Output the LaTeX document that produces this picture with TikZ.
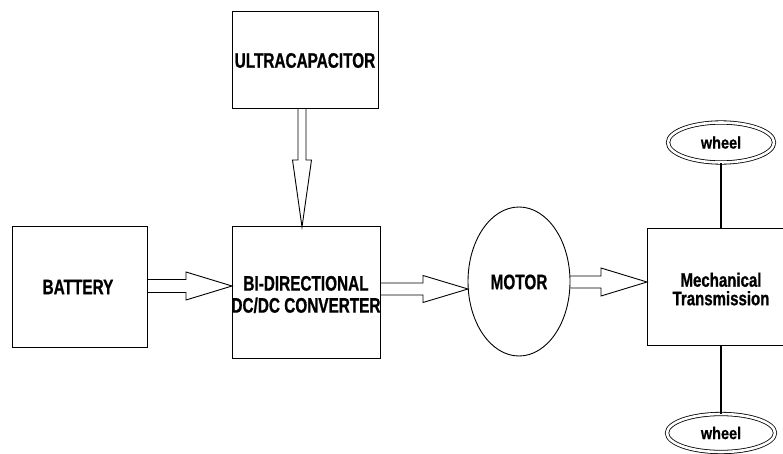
\documentclass[tikz,border=0pt]{standalone}
\usepackage{fontspec}
\setmainfont{Liberation Sans}
\newfontfamily\labfont[FakeStretch=0.73, BoldFeatures={FakeBold=0.8}]{Liberation Sans}
\newfontfamily\mecfont[FakeStretch=0.77, BoldFeatures={FakeBold=0.8}]{Liberation Sans}
\newfontfamily\whfont[FakeStretch=0.85, BoldFeatures={FakeBold=0.6}]{Liberation Sans}
\usetikzlibrary{calc,shapes.geometric}
\tikzset{
  blk/.style={draw, line width=0.9pt, rectangle, inner sep=0pt},
  lbl/.style={font=\labfont\bfseries\fontsize{21}{22}\selectfont, align=center, inner sep=0pt},
  lblb/.style={font=\mecfont\bfseries\fontsize{19.5}{18.5}\selectfont, align=center, inner sep=0pt},
  whl/.style={draw, ellipse, line width=0.8pt, double, double distance=2.6pt, inner sep=0pt,
     font=\whfont\bfseries\fontsize{17}{17}\selectfont},
  harr/.style={draw, line width=0.9pt, line join=miter},
  link/.style={draw, line width=1.1pt}
}
% horizontal hollow arrow: start, tip, shaft half, head half, head length
\newcommand{\hollowH}[5]{%
  \draw[harr] let \p1=(#1), \p2=(#2) in
    (\x1,\y2+#3) -- (\x2-#5,\y2+#3) -- (\x2-#5,\y2+#4) -- (\x2,\y2)
    -- (\x2-#5,\y2-#4) -- (\x2-#5,\y2-#3) -- (\x1,\y2-#3);}
% vertical (downward) hollow arrow
\newcommand{\hollowV}[5]{%
  \draw[harr] let \p1=(#1), \p2=(#2) in
    (\x2-#3,\y1) -- (\x2-#3,\y2+#5) -- (\x2-#4,\y2+#5) -- (\x2,\y2)
    -- (\x2+#4,\y2+#5) -- (\x2+#3,\y2+#5) -- (\x2+#3,\y1);}
\begin{document}
\begin{tikzpicture}[x=1pt,y=-1pt]
\useasboundingbox (0,0) rectangle (783,454);
\clip (0,0) rectangle (783,454);
\fill[white] (0,0) rectangle (783,454);

% boxes
\node[blk, minimum width=146pt, minimum height=97pt] (ucap) at (305,59.5) {};
\node[lbl] (ucapt) at (305,60.5) {ULTRACAPACITOR};

\node[blk, minimum width=135pt, minimum height=121pt] (bat) at (79.5,286.5) {};
\node[lbl] (batt) at (78,287) {BATTERY};

\node[blk, minimum width=148pt, minimum height=132pt] (conv) at (306,292) {};
\node[lbl] (convt) at (306,294.5) {BI-DIRECTIONAL\\DC/DC CONVERTER};

\node[draw, ellipse, line width=0.9pt, minimum width=102pt, minimum height=149pt, inner sep=0pt] (mot) at (519,281.5) {};
\node[lbl] (mott) at (519,282) {MOTOR};

\node[blk, minimum width=150pt, minimum height=117pt] (trans) at (722,286.5) {};
\node[lblb] (transt) at (721,289) {Mechanical\\Transmission};

\node[whl, minimum width=106pt, minimum height=40pt] (w1) at (721,142.5) {wheel};
\node[whl, minimum width=108pt, minimum height=38pt] (w2) at (721,433) {wheel};

% arrow tips
\coordinate (tip1) at (232,286);
\coordinate (tip2) at (302,227);
\coordinate (tip3) at (468,289);
\coordinate (tip4) at (647,282);

\hollowH{bat.east}{tip1}{6.5}{14}{46}
\hollowV{ucap.south}{tip2}{4}{9.5}{67}
\hollowH{conv.east}{tip3}{6}{13.5}{45}
\hollowH{mot.east}{tip4}{6}{14}{46}

% wheel links
\draw[link] (w1.south) -- (w1.south |- trans.north);
\draw[link] (w2.north) -- (w2.north |- trans.south);
\end{tikzpicture}
\end{document}
